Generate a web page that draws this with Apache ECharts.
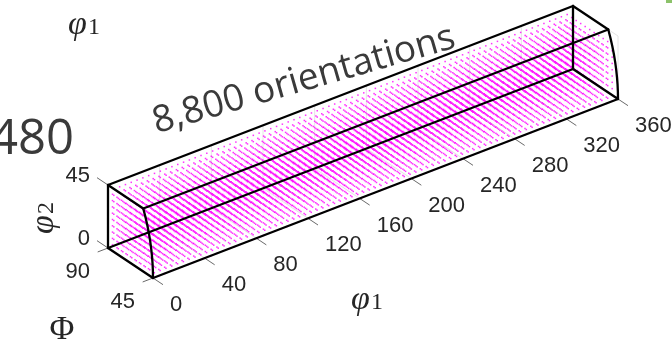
<!DOCTYPE html>
<html>
<head>
<meta charset="utf-8">
<script src="https://cdn.jsdelivr.net/npm/echarts@6/dist/echarts.min.js"></script>
<style>
  html, body { margin: 0; padding: 0; background: #fff; }
  #chart { width: 672px; height: 345px; }
</style>
</head>
<body>
<div id="chart"></div>
<script>
// Euler-angle sampling grid (degrees)
const phi1Samples = [
  0, 4.5, 9, 13.5, 18, 22.5, 27, 31.5, 36, 40.5,
  45, 49.5, 54, 58.5, 63, 67.5, 72, 76.5, 81, 85.5,
  90, 94.5, 99, 103.5, 108, 112.5, 117, 121.5, 126, 130.5,
  135, 139.5, 144, 148.5, 153, 157.5, 162, 166.5, 171, 175.5,
  180, 184.5, 189, 193.5, 198, 202.5, 207, 211.5, 216, 220.5,
  225, 229.5, 234, 238.5, 243, 247.5, 252, 256.5, 261, 265.5,
  270, 274.5, 279, 283.5, 288, 292.5, 297, 301.5, 306, 310.5,
  315, 319.5, 324, 328.5, 333, 337.5, 342, 346.5, 351, 355.5
];
const PhiSamples = [45, 49.5, 54, 58.5, 63, 67.5, 72, 76.5, 81, 85.5, 90];
const phi2Samples = [0, 4.5, 9, 13.5, 18, 22.5, 27, 31.5, 36, 40.5];

// axis ranges and ticks
const phi1Range = [0, 360];
const phi1Ticks = [0, 40, 80, 120, 160, 200, 240, 280, 320, 360];
const PhiTicks = [90, 45];
const phi2Ticks = [0, 45];

// lower Phi bound of the cubic fundamental zone as a function of phi2
function PhiMin(phi2) {
  const c = Math.cos(phi2 * Math.PI / 180);
  return Math.acos(c / Math.sqrt(1 + c * c)) * 180 / Math.PI;
}

// every grid orientation
const orientations = [];
for (const p1 of phi1Samples)
  for (const p2 of phi2Samples)
    for (const P of PhiSamples) orientations.push([p1, P, p2]);

// oblique view of (phi1, Phi, phi2) onto the page plane
const view = {
  origin: [108, 248],              // (phi1 0, Phi 90, phi2 0)
  ePhi1: [465 / 360, -179 / 360],
  ePhi: [-1.0, -2 / 3],
  ePhi2: [0, -1.4]
};
function project(p1, P, p2) {
  return [
    view.origin[0] + p1 * view.ePhi1[0] + (P - 90) * view.ePhi[0] + p2 * view.ePhi2[0],
    view.origin[1] + p1 * view.ePhi1[1] + (P - 90) * view.ePhi[1] + p2 * view.ePhi2[1]
  ];
}
const toLine = pts => ({ coords: pts.map(p => project(p[0], p[1], p[2])) });

// zone outline
const curveSteps = [0, 5, 10, 15, 20, 25, 30, 35, 40, 45];
function faceOutline(p1) {
  const pts = [[p1, 90, 45], [p1, 90, 0]];
  curveSteps.forEach(q => pts.push([p1, PhiMin(q), q]));
  pts.push([p1, 90, 45]);
  return pts;
}
const cornerPairs = [[90, 45], [90, 0], [45, 0], [PhiMin(45), 45]];
const edgeLines = [toLine(faceOutline(phi1Range[0])), toLine(faceOutline(phi1Range[1]))]
  .concat(cornerPairs.map(c => toLine([[phi1Range[0], c[0], c[1]], [phi1Range[1], c[0], c[1]]])));

// light grid on the back planes
const gridLines = [];
phi1Ticks.slice(1, -1).forEach(t => {
  gridLines.push(toLine([[t, 90, 0], [t, 90, 45]]));
  gridLines.push(toLine([[t, 90, 0], [t, 45, 0]]));
});
gridLines.push(toLine([[360, PhiMin(45), 45], [360, 45, 45], [360, 45, 0]]));

// tick marks
const tickLines = [];
phi1Ticks.forEach(t => tickLines.push(toLine([[t, 45, 0], [t, 35, 0]])));
PhiTicks.forEach(t => tickLines.push(toLine([[0, t, 0], [-8, t, 0]])));
phi2Ticks.forEach(t => tickLines.push(toLine([[0, 90, t], [0, 101, t]])));

const tickFont = '22px "Liberation Sans", Arial, sans-serif';
function labelSeries(points, dx, dy, align, vAlign) {
  return {
    type: 'custom', coordinateSystem: 'cartesian2d', silent: true, z: 5,
    data: points,
    renderItem: (params, api) => {
      const p = api.coord([api.value(0), api.value(1)]);
      return {
        type: 'text', x: p[0] + dx, y: p[1] + dy,
        style: { text: String(points[params.dataIndex][2]), font: tickFont, fill: '#262626',
                 align: align, verticalAlign: vAlign }
      };
    }
  };
}

const chart = echarts.init(document.getElementById('chart'), null, { renderer: 'canvas' });
const serifItalic = 'italic 34px "Liberation Serif", "DejaVu Serif", serif';
const subFont = '24px "Liberation Serif", serif';
function symbolTitle(x, y, sub, rotation) {
  return { type: 'text', x: x, y: y, rotation: rotation || 0, silent: true,
    style: { text: '{p|φ}{s|' + sub + '}', align: 'center', verticalAlign: 'middle',
      rich: { p: { font: serifItalic, fill: '#262626' },
              s: { font: subFont, fill: '#262626', padding: [6, 0, 0, 1] } } } };
}
chart.setOption({
  animation: false,
  backgroundColor: '#fff',
  grid: { left: 0, right: 0, top: 0, bottom: 0 },
  xAxis: { type: 'value', min: 0, max: 672, show: false },
  yAxis: { type: 'value', min: 0, max: 345, inverse: true, show: false },
  series: [
    { type: 'lines', coordinateSystem: 'cartesian2d', polyline: true, silent: true, z: 1,
      lineStyle: { color: '#e4e4e4', width: 1, opacity: 1 }, data: gridLines },
    { type: 'scatter', name: 'orientations', silent: true, z: 2, large: true, largeThreshold: 1000,
      symbol: 'rect', symbolSize: 1.5, itemStyle: { color: '#ff00ff' },
      data: orientations.map(o => project(o[0], o[1], o[2])) },
    { type: 'lines', coordinateSystem: 'cartesian2d', polyline: true, silent: true, z: 3,
      lineStyle: { color: '#6a6a6a', width: 1, opacity: 1 }, data: tickLines },
    { type: 'lines', coordinateSystem: 'cartesian2d', polyline: true, silent: true, z: 4,
      lineStyle: { color: '#000', width: 2.3, opacity: 1, join: 'round', cap: 'round' }, data: edgeLines },
    labelSeries(phi1Ticks.map(t => project(t, 45, 0).concat([t])), 17, 16, 'left', 'top'),
    labelSeries(PhiTicks.map(t => project(0, t, 0).concat([t])), -18, 13, 'right', 'top'),
    labelSeries(phi2Ticks.map(t => project(0, 90, t).concat([t])), -18, -9, 'right', 'middle')
  ],
  graphic: [
    symbolTitle(367, 300, '1'),
    symbolTitle(84, 25, '1'),
    symbolTitle(44, 218, '2', Math.PI / 2),
    { type: 'text', x: 62, y: 330, silent: true,
      style: { text: 'Φ', font: '34px "Liberation Serif", serif', fill: '#262626',
               align: 'center', verticalAlign: 'middle' } },
    { type: 'text', x: 74, y: 140, silent: true,
      style: { text: '480', font: '49px "Open Sans", sans-serif', fill: '#3a3a3a',
               align: 'right', verticalAlign: 'middle' } },
    { type: 'text', x: 304, y: 80, rotation: 16 * Math.PI / 180, silent: true,
      style: { text: orientations.length.toLocaleString('en-US') + ' orientations',
               font: '37px "Open Sans", sans-serif', fill: '#3a3a3a',
               align: 'center', verticalAlign: 'middle' } },
    { type: 'rect', shape: { x: 666, y: 0, width: 6, height: 3 }, silent: true,
      style: { fill: '#8cc26a' } }
  ]
});
</script>
</body>
</html>
